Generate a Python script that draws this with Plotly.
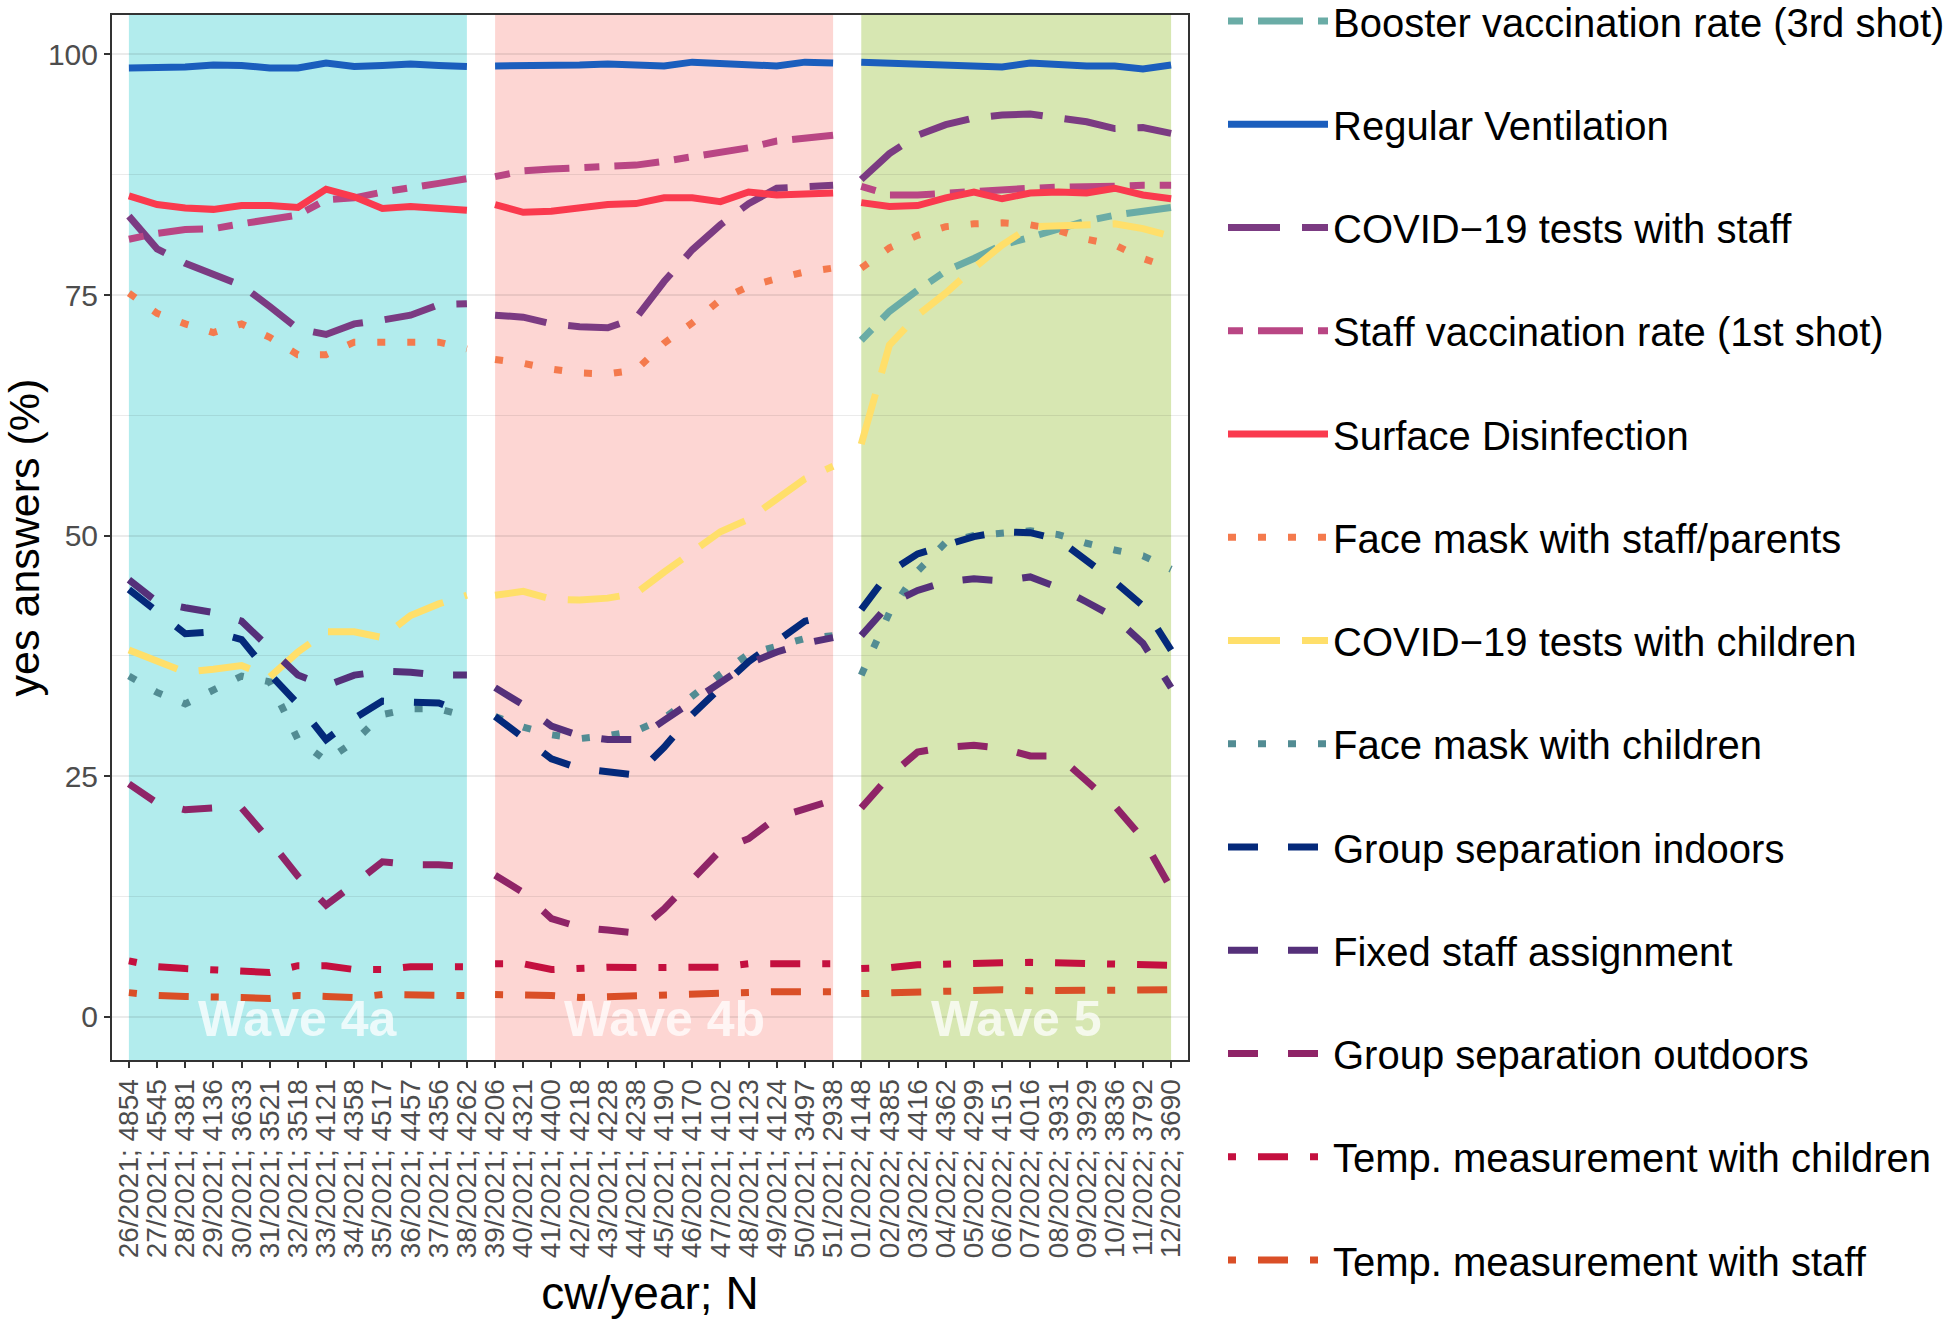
import plotly.graph_objects as go

# ---------------- data ----------------
calendar_weeks = [
    "26/2021", "27/2021", "28/2021", "29/2021", "30/2021", "31/2021", "32/2021",
    "33/2021", "34/2021", "35/2021", "36/2021", "37/2021", "38/2021",
    "39/2021", "40/2021", "41/2021", "42/2021", "43/2021", "44/2021", "45/2021",
    "46/2021", "47/2021", "48/2021", "49/2021", "50/2021", "51/2021",
    "01/2022", "02/2022", "03/2022", "04/2022", "05/2022", "06/2022", "07/2022",
    "08/2022", "09/2022", "10/2022", "11/2022", "12/2022",
]
sample_n = [
    4854, 4545, 4381, 4136, 3633, 3521, 3518, 4121, 4358, 4517, 4457, 4356, 4262,
    4206, 4321, 4400, 4218, 4228, 4238, 4190, 4170, 4102, 4123, 4124, 3497, 2938,
    4148, 4385, 4416, 4362, 4299, 4151, 4016, 3931, 3929, 3836, 3792, 3690,
]

wave_names = ["Wave 4a", "Wave 4b", "Wave 5"]
wave_first = ["26/2021", "39/2021", "01/2022"]
wave_last = ["38/2021", "51/2021", "12/2022"]
wave_colors = ["#00BFC4", "#F8766D", "#7CAE00"]

booster = [None] * 26 + [
    70.3, 73.3, 75.5, 77.5, 78.8, 80.2, 81.0, 81.8, 82.7, 83.3, 83.7, 84.1]
ventilation = [
    98.6, 98.6, 98.7, 98.9, 98.85, 98.6, 98.6, 99.1, 98.75, 98.85, 99.0, 98.85, 98.75,
    98.8, 98.8, 98.8, 98.9, 99.0, 98.9, 98.8, 99.2, 99.1, 99.0, 98.8, 99.2, 99.1,
    99.2, 99.1, 98.9, 98.8, 98.8, 98.7, 99.1, 98.9, 98.8, 98.8, 98.5, 98.9]
covid_tests_staff = [
    83.2, 79.8, 78.3, 77.2, 76.0, 73.8, 71.5, 70.9, 72.0, 72.4, 72.9, 74.0, 74.1,
    72.9, 72.7, 72.0, 71.7, 71.6, 72.6, 76.4, 79.7, 82.3, 84.5, 86.1, 86.3, 86.4,
    87.0, 89.7, 91.6, 92.7, 93.4, 93.7, 93.8, 93.4, 93.0, 92.3, 92.4, 91.8]
staff_vaccination = [
    80.8, 81.4, 81.8, 81.9, 82.4, 82.9, 83.3, 84.9, 85.1, 85.7, 86.1, 86.6, 87.1,
    87.3, 87.9, 88.1, 88.2, 88.3, 88.5, 88.9, 89.4, 89.8, 90.3, 91.0, 91.3, 91.6,
    86.3, 85.4, 85.4, 85.6, 85.7, 85.9, 86.1, 86.2, 86.2, 86.3, 86.4, 86.4]
surface_disinfection = [
    85.3, 84.4, 84.05, 83.9, 84.3, 84.3, 84.1, 86.0, 85.2, 84.0, 84.2, 84.05, 83.8,
    84.4, 83.6, 83.7, 84.0, 84.4, 84.5, 85.1, 85.1, 84.7, 85.7, 85.4, 85.5, 85.6,
    84.6, 84.2, 84.3, 85.1, 85.7, 85.0, 85.6, 85.7, 85.6, 86.1, 85.4, 85.0]
mask_staff_parents = [
    75.2, 73.1, 72.0, 71.1, 72.0, 70.6, 68.8, 68.8, 70.1, 70.1, 70.1, 70.1, 69.4,
    68.3, 67.9, 67.3, 66.9, 66.8, 67.2, 70.0, 72.1, 74.5, 75.9, 76.7, 77.4, 77.8,
    77.8, 79.9, 81.2, 82.1, 82.4, 82.5, 82.3, 81.7, 80.8, 80.2, 78.8, 77.8]
covid_tests_children = [
    38.1, 36.9, 35.8, 36.1, 36.5, 35.3, 37.9, 40.0, 40.0, 39.4, 41.7, 42.9, 43.8,
    43.8, 44.2, 43.4, 43.3, 43.5, 44.0, 46.2, 48.3, 50.4, 51.7, 53.7, 55.9, 57.2,
    59.5, 69.8, 72.9, 75.2, 77.8, 80.2, 82.1, 82.2, 82.3, 82.4, 81.9, 81.1]
mask_children = [
    35.4, 33.7, 32.5, 34.0, 35.4, 34.8, 28.8, 26.6, 28.6, 31.4, 32.0, 32.0, 31.2,
    31.2, 30.1, 29.3, 28.9, 29.2, 29.7, 31.0, 33.4, 35.6, 37.7, 38.5, 39.3, 39.6,
    35.5, 42.0, 46.3, 49.3, 50.0, 50.2, 50.5, 50.1, 49.2, 48.5, 47.9, 46.5]
group_sep_indoors = [
    44.4, 42.0, 39.8, 40.0, 39.2, 35.6, 32.5, 28.8, 31.0, 32.8, 32.7, 32.6, 31.5,
    31.2, 29.0, 26.8, 25.8, 25.4, 25.1, 28.0, 31.4, 34.2, 36.9, 39.0, 41.1, 41.8,
    42.3, 46.2, 48.1, 49.0, 49.9, 50.4, 50.3, 49.6, 47.5, 45.2, 42.7, 38.1]
fixed_staff = [
    45.4, 43.1, 42.5, 42.0, 41.1, 38.3, 35.5, 34.4, 35.5, 35.9, 35.8, 35.5, 35.5,
    34.2, 32.4, 30.2, 29.2, 28.8, 28.8, 30.8, 32.7, 34.7, 36.7, 37.9, 38.8, 39.4,
    39.6, 42.9, 44.3, 45.2, 45.5, 45.3, 45.7, 44.6, 43.1, 41.5, 38.8, 34.2]
group_sep_outdoors = [
    24.2, 22.2, 21.5, 21.7, 21.7, 18.3, 14.6, 11.6, 13.8, 16.1, 15.8, 15.8, 15.6,
    14.7, 12.9, 10.2, 9.3, 9.0, 8.7, 11.2, 14.2, 17.3, 18.5, 20.7, 21.6, 22.5,
    21.7, 25.0, 27.5, 28.0, 28.2, 27.9, 27.1, 27.1, 24.5, 21.9, 18.5, 13.3]
temp_children = [
    5.8, 5.2, 5.0, 4.9, 4.8, 4.6, 5.3, 5.3, 4.9, 4.9, 5.2, 5.2, 5.2,
    5.5, 5.5, 4.9, 5.1, 5.15, 5.1, 5.15, 5.2, 5.15, 5.5, 5.5, 5.5, 5.5,
    5.0, 5.1, 5.4, 5.5, 5.65, 5.6, 5.65, 5.6, 5.5, 5.45, 5.4, 5.35]
temp_staff = [
    2.5, 2.2, 2.1, 2.1, 2.0, 1.9, 2.2, 2.1, 2.0, 2.3, 2.3, 2.3, 2.2,
    2.3, 2.3, 2.2, 2.0, 2.1, 2.2, 2.3, 2.4, 2.5, 2.6, 2.6, 2.6, 2.6,
    2.4, 2.5, 2.6, 2.7, 2.85, 2.8, 2.7, 2.7, 2.7, 2.8, 2.8, 2.8]

series_names = [
    "Booster vaccination rate (3rd shot)", "Regular Ventilation",
    "COVID\u221219 tests with staff", "Staff vaccination rate (1st shot)",
    "Surface Disinfection", "Face mask with staff/parents",
    "COVID\u221219 tests with children", "Face mask with children",
    "Group separation indoors", "Fixed staff assignment",
    "Group separation outdoors", "Temp. measurement with children",
    "Temp. measurement with staff",
]
series_values = [
    booster, ventilation, covid_tests_staff, staff_vaccination,
    surface_disinfection, mask_staff_parents, covid_tests_children,
    mask_children, group_sep_indoors, fixed_staff, group_sep_outdoors,
    temp_children, temp_staff,
]

# ---------------- styles ----------------
series_colors = [
    "#6AACA6", "#1B5EBD", "#7B3B82", "#B94684", "#FA3A4E", "#F47A4D",
    "#FFDF6A", "#528C93", "#04297A", "#55307A", "#8F2467", "#C4103F", "#DA4F27",
]
U = 7.5
DASHES = {
    "solid": "solid",
    "twodash": f"{2*U:.0f}px,{2*U:.0f}px,{6*U:.0f}px,{2*U:.0f}px",
    "longdash": f"{7*U:.0f}px,{3*U:.0f}px",
    "dotted": f"{1*U:.0f}px,{3*U:.0f}px",
    "dashed": f"{4*U:.0f}px,{4*U:.0f}px",
    "dotdash": f"{1*U:.0f}px,{3*U:.0f}px,{4*U:.0f}px,{3*U:.0f}px",
}
series_linetypes = [
    "twodash", "solid", "longdash", "twodash", "solid", "dotted",
    "longdash", "dotted", "dashed", "dashed", "dashed", "dotdash", "dotdash",
]

FONT = "Liberation Sans, Arial, Helvetica, sans-serif"
W, H = 1945, 1319
M_L, M_R, M_T, M_B = 112, 757, 15, 259
PLOT_H = H - M_T - M_B
tick_text = [f"{w}; {n}" for w, n in zip(calendar_weeks, sample_n)]

fig = go.Figure()

wave_idx = [(calendar_weeks.index(a), calendar_weeks.index(b))
            for a, b in zip(wave_first, wave_last)]

legend_ids = ["legend" if i == 0 else f"legend{i+1}" for i in range(len(series_names))]

for name, vals, col, lt, lid in zip(series_names, series_values, series_colors,
                                    series_linetypes, legend_ids):
    shown = False
    for (s, e) in wave_idx:
        ys = vals[s:e + 1]
        if all(v is None for v in ys):
            continue
        fig.add_trace(go.Scatter(
            x=calendar_weeks[s:e + 1], y=ys, mode="lines", name=name,
            legendgroup=name, showlegend=not shown, legend=lid,
            line=dict(color=col, width=7, dash=DASHES[lt]),
            hoverinfo="skip",
        ))
        shown = True

for (s, e), wname, wcol in zip(wave_idx, wave_names, wave_colors):
    fig.add_shape(type="rect", xref="x", yref="y domain", x0=s, x1=e, y0=0, y1=1,
                  fillcolor=wcol, opacity=0.3, line=dict(width=0), layer="below")
    fig.add_annotation(x=(s + e) / 2, y=0, xref="x", yref="y", text=f"<b>{wname}</b>",
                       showarrow=False, yshift=-2,
                       font=dict(family=FONT, size=50, color="rgba(255,255,255,0.75)"))

# one single-item legend per series, evenly spaced down the right side
legend_layout = {}
first_center, last_center = 21, 1260
step = (last_center - first_center) / (len(series_names) - 1)
for i, lid in enumerate(legend_ids):
    center_px = first_center + i * step
    legend_layout[lid] = dict(
        x=(1223 - M_L) / (W - M_L - M_R), xanchor="left",
        y=1 - (center_px - M_T) / PLOT_H, yanchor="middle",
        font=dict(family=FONT, size=40, color="black"),
        itemwidth=100, bgcolor="rgba(0,0,0,0)", borderwidth=0,
    )

GRID = "rgba(0,0,0,0.08)"
fig.update_layout(
    width=W, height=H,
    margin=dict(l=M_L, r=M_R, t=M_T, b=M_B, autoexpand=False),
    paper_bgcolor="white", plot_bgcolor="white",
    font=dict(family=FONT, color="black"),
    showlegend=True,
    xaxis=dict(
        type="category", categoryorder="array", categoryarray=calendar_weeks,
        range=[-0.6, len(calendar_weeks) - 0.4],
        tickmode="array", tickvals=calendar_weeks, ticktext=tick_text,
        tickangle=-90, tickfont=dict(family=FONT, size=28, color="#4D4D4D"),
        ticks="outside", ticklen=6, tickwidth=2, tickcolor="#333333",
        showgrid=False, zeroline=False, automargin=False,
        showline=True, linecolor="#333333", linewidth=2, mirror=True,
        title=dict(text="cw/year; N", font=dict(family=FONT, size=46, color="black"),
                   standoff=20),
    ),
    yaxis=dict(
        range=[-4.5, 104.1],
        tickmode="array", tickvals=[0, 25, 50, 75, 100],
        tickfont=dict(family=FONT, size=30, color="#4D4D4D"),
        ticks="outside", ticklen=6, tickwidth=2, tickcolor="#333333",
        showgrid=True, gridcolor=GRID, gridwidth=2,
        minor=dict(tickvals=[12.5, 37.5, 62.5, 87.5], showgrid=True,
                   gridcolor=GRID, gridwidth=1.3, ticks=""),
        zeroline=False, automargin=False,
        showline=True, linecolor="#333333", linewidth=2, mirror=True,
        title=dict(text="yes answers (%)", font=dict(family=FONT, size=43, color="black"),
                   standoff=8),
    ),
    **legend_layout,
)

fig.write_html("out.html", config={"displayModeBar": False},
               post_script="document.body.style.margin='0px';")
